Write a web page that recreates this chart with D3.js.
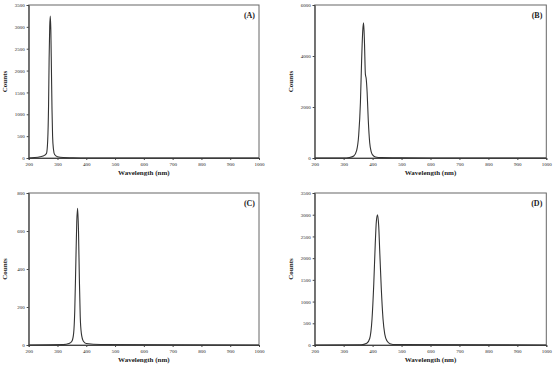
<!DOCTYPE html>
<html>
<head>
  <style>
    body { margin: 0; background: #fff; }
    svg { display: block; }
    text { font-family: "Liberation Serif", "Times New Roman", serif; fill: #222; }
  </style>
</head>
<body>
  <div id="chart"></div>
  <script src="https://d3js.org/d3.v7.min.js"></script>
  <script>
    // spectra (wavelength in nm, counts)
    var waveA   = [200, 220, 240, 255, 262, 266, 269, 271, 273, 275, 277, 279, 281, 283, 286, 290, 300, 320, 350, 400, 1000];
    var countsA = [0, 10, 30, 60, 110, 400, 1200, 2300, 3000, 3250, 2900, 2000, 1100, 500, 200, 80, 30, 10, 5, 0, 0];

    var waveB   = [200, 300, 320, 335, 345, 352, 358, 362, 366, 369, 372, 375, 378, 381, 385, 390, 395, 400, 410, 430, 500, 600, 1000];
    var countsB = [0, 0, 20, 80, 300, 900, 2200, 3800, 5000, 5300, 4500, 3300, 3100, 2600, 1500, 600, 250, 120, 40, 15, 5, 0, 0];

    var waveC   = [200, 320, 340, 350, 356, 360, 364, 367, 370, 373, 376, 379, 383, 390, 400, 450, 1000];
    var countsC = [0, 2, 8, 20, 60, 180, 450, 650, 720, 600, 350, 150, 60, 20, 8, 3, 0];

    var waveD   = [200, 360, 380, 390, 398, 404, 409, 413, 417, 421, 425, 430, 436, 442, 450, 460, 480, 1000];
    var countsD = [0, 5, 40, 150, 600, 1400, 2300, 2850, 3000, 2750, 2100, 1300, 600, 250, 90, 30, 10, 0];

    var xTicks = [200, 300, 400, 500, 600, 700, 800, 900, 1000];
    var yTicksA = [0, 500, 1000, 1500, 2000, 2500, 3000, 3500];
    var yTicksB = [0, 2000, 4000, 6000];
    var yTicksC = [0, 200, 400, 600, 800];
    var yTicksD = [0, 500, 1000, 1500, 2000, 2500, 3000, 3500];

    var labels = ["(A)", "(B)", "(C)", "(D)"];

    var svg = d3.select("#chart").append("svg")
      .attr("width", 554)
      .attr("height", 365);

    function panel(opts) {
      var g = svg.append("g");
      var x = d3.scaleLinear().domain([200, 1000]).range([opts.left, opts.right]);
      var y = d3.scaleLinear().domain([0, opts.ymax]).range([opts.bottom, opts.top]);

      // frame
      g.append("rect")
        .attr("x", opts.left).attr("y", opts.top)
        .attr("width", opts.right - opts.left)
        .attr("height", opts.bottom - opts.top)
        .attr("fill", "none").attr("stroke", "#666").attr("stroke-width", 1);

      var xa = g.append("g")
        .attr("transform", "translate(0," + opts.bottom + ")")
        .call(d3.axisBottom(x).tickValues(xTicks).tickFormat(d3.format("d")).tickSize(2).tickPadding(2));
      var ya = g.append("g")
        .attr("transform", "translate(" + opts.left + ",0)")
        .call(d3.axisLeft(y).tickValues(opts.yticks).tickFormat(d3.format("d")).tickSize(2).tickPadding(2));
      [xa, ya].forEach(function (a) {
        a.select(".domain").attr("stroke", "#444");
        a.selectAll(".tick line").attr("stroke", "#444");
        a.selectAll("text").attr("font-size", 5).attr("font-family", "Liberation Serif").attr("fill", "#333");
      });

      var pts = opts.wave.map(function (w, i) { return [w, opts.counts[i]]; });
      g.append("path")
        .datum(pts)
        .attr("fill", "none")
        .attr("stroke", "#333")
        .attr("stroke-width", 1.1)
        .attr("d", d3.line()
          .x(function (d) { return x(d[0]); })
          .y(function (d) { return y(d[1]); })
          .curve(d3.curveMonotoneX));

      g.append("text")
        .attr("x", (opts.left + opts.right) / 2)
        .attr("y", opts.bottom + 17)
        .attr("text-anchor", "middle")
        .attr("font-size", 7).attr("font-weight", "bold")
        .text("Wavelength (nm)");

      g.append("text")
        .attr("transform", "translate(" + (opts.left - 22) + "," + ((opts.top + opts.bottom) / 2) + ") rotate(-90)")
        .attr("text-anchor", "middle")
        .attr("font-size", 7).attr("font-weight", "bold")
        .text("Counts");

      g.append("text")
        .attr("x", opts.right - 4)
        .attr("y", opts.top + 13)
        .attr("text-anchor", "end")
        .attr("font-size", 8).attr("font-weight", "bold")
        .text(opts.label);
    }

    panel({ left: 28.7, right: 259, top: 5, bottom: 158, ymax: 3500, yticks: yTicksA, wave: waveA, counts: countsA, label: labels[0] });
    panel({ left: 314.7, right: 546.3, top: 5, bottom: 158, ymax: 6000, yticks: yTicksB, wave: waveB, counts: countsB, label: labels[1] });
    panel({ left: 28.7, right: 259, top: 193, bottom: 345, ymax: 800, yticks: yTicksC, wave: waveC, counts: countsC, label: labels[2] });
    panel({ left: 314.7, right: 546.3, top: 193, bottom: 345, ymax: 3500, yticks: yTicksD, wave: waveD, counts: countsD, label: labels[3] });
  </script>
</body>
</html>
